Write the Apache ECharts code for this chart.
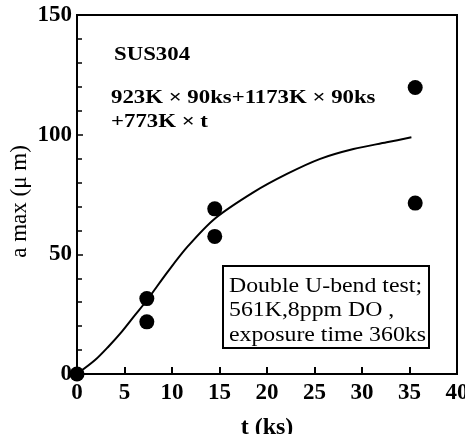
<!DOCTYPE html>
<html><head><meta charset="utf-8">
<script src="https://cdn.jsdelivr.net/npm/echarts@6/dist/echarts.min.js"></script>
<style>html,body{margin:0;padding:0;background:#fff}#c{width:465px;height:434px}</style>
</head><body><div id="c"></div>
<script>
const xTicks = [0, 5, 10, 15, 20, 25, 30, 35, 40];
const yTicks = [0, 50, 100, 150];
const pointT = [0, 7.35, 7.35, 14.5, 14.5, 35.6, 35.6];
const pointA = [0, 31.5, 21.8, 69, 57.5, 119.7, 71.4];
const curveT = [0, 1.9, 3.3, 4.7, 6.1, 7.3, 9.6, 11.7, 14.5, 18.6, 22.1, 25.6, 29.1, 32.6, 35.2];
const curveA = [0, 5.8, 11.4, 17.6, 24.6, 30.5, 43, 53.5, 64.9, 76, 83.6, 89.9, 94, 96.8, 98.9];

const serif = '"Liberation Serif","DejaVu Serif",serif';
const chart = echarts.init(document.getElementById('c'));
chart.setOption({
  animation: false,
  backgroundColor: '#fff',
  grid: { left: 77, right: 8, top: 15, bottom: 60, outerBoundsMode: 'none', containLabel: false,
          show: true, borderColor: '#000', borderWidth: 2, backgroundColor: 'transparent' },
  xAxis: {
    type: 'value', min: xTicks[0], max: xTicks[xTicks.length-1], interval: 5,
    name: 't (ks)', nameLocation: 'middle', nameGap: 42, nameMoveOverlap: false,
    nameTextStyle: { fontFamily: serif, fontWeight: 'bold', fontSize: 24, color: '#000' },
    axisLine: { show: true, lineStyle: { color: '#000', width: 2 } },
    axisTick: { show: true, inside: true, length: 7, lineStyle: { color: '#000', width: 2 } },
    axisLabel: { fontFamily: serif, fontWeight: 'bold', fontSize: 23, color: '#000', margin: 8 },
    splitLine: { show: false }
  },
  yAxis: {
    type: 'value', min: yTicks[0], max: yTicks[yTicks.length-1], interval: 50,
    name: 'a max (μ m)', nameLocation: 'middle', nameGap: 46, nameRotate: 90, nameMoveOverlap: false,
    nameTextStyle: { fontFamily: serif, fontSize: 23, color: '#000', padding: [0, 14, 0, 0] },
    axisLine: { show: true, lineStyle: { color: '#000', width: 2 } },
    axisTick: { show: true, inside: true, length: 6, lineStyle: { color: '#000', width: 1.5 } },
    minorTick: { show: true, splitNumber: 5, length: 5, lineStyle: { color: '#000', width: 1.5 } },
    axisLabel: { fontFamily: serif, fontWeight: 'bold', fontSize: 23, color: '#000', margin: 5 },
    splitLine: { show: false }
  },
  series: [
    { type: 'line', data: curveT.map((t, i) => [t, curveA[i]]), smooth: 0.3, symbol: 'none',
      lineStyle: { color: '#000', width: 2 }, z: 2 },
    { type: 'scatter', data: pointT.map((t, i) => [t, pointA[i]]), symbol: 'circle', symbolSize: 15,
      itemStyle: { color: '#000', opacity: 1 }, z: 3 }
  ],
  graphic: [
    { type: 'text', x: 114, y: 46, scaleX: 1.2, style: { text: 'SUS304', font: 'bold 19px ' + serif, fill: '#000' } },
    { type: 'text', x: 111, y: 86, scaleX: 1.2, style: { text: '923K × 90ks+1173K × 90ks\n+773K × t', font: 'bold 19px ' + serif, fill: '#000', lineHeight: 24 } },
    { type: 'rect', shape: { x: 223, y: 266, width: 206, height: 82 }, style: { fill: '#fff', stroke: '#000', lineWidth: 2 }, z: 10 },
    { type: 'text', x: 229, y: 274, scaleX: 1.19, z: 11, style: { text: 'Double U-bend test;\n561K,8ppm DO ,\nexposure time 360ks', font: '20px ' + serif, fill: '#000', lineHeight: 24.5 } }
  ]
});
</script></body></html>
